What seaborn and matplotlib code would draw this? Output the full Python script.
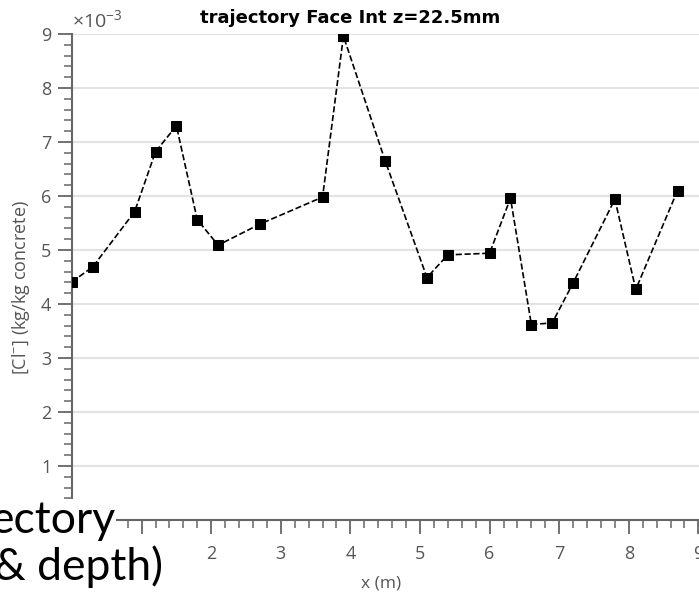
import matplotlib
matplotlib.use("Agg")
import matplotlib.pyplot as plt
import seaborn as sns
import numpy as np
from matplotlib.ticker import MultipleLocator, FuncFormatter

# data
x_m = [0.0, 0.3, 0.9, 1.2, 1.5, 1.8, 2.1, 2.7, 3.6, 3.9, 4.5, 5.1, 5.4, 6.0, 6.3, 6.6, 6.9, 7.2, 7.8, 8.1, 8.7]
cl_conc = [4.41e-3, 4.69e-3, 5.71e-3, 6.82e-3, 7.30e-3, 5.56e-3, 5.09e-3, 5.48e-3, 5.98e-3, 8.96e-3,
           6.65e-3, 4.49e-3, 4.91e-3, 4.94e-3, 5.96e-3, 3.62e-3, 3.65e-3, 4.39e-3, 5.94e-3, 4.27e-3, 6.10e-3]
title = "trajectory Face Int z=22.5mm"
xlabel = "x (m)"
ylabel = "[Cl$^{-}$] (kg/kg concrete)"

sns.set_style("white")
plt.rcParams['font.family'] = ['Open Sans', 'DejaVu Sans']
plt.rcParams['mathtext.fontset'] = 'custom'
plt.rcParams['mathtext.rm'] = 'Open Sans'
plt.rcParams['mathtext.it'] = 'Open Sans'

W, H = 699, 597
fig = plt.figure(figsize=(W / 100, H / 100), dpi=100)
ax = fig.add_axes([72 / W, 77 / H, 10 * 69.6 / W, 486 / H])

sns.lineplot(x=x_m, y=cl_conc, ax=ax, color='black', linestyle='--', linewidth=1.2,
             marker='s', markersize=7.5, markeredgecolor='black', markerfacecolor='black',
             zorder=3)

ax.set_xlim(0, 10)
ax.set_ylim(0, 9e-3)
ax.xaxis.set_major_locator(MultipleLocator(1))
ax.xaxis.set_minor_locator(MultipleLocator(0.2))
ax.yaxis.set_major_locator(MultipleLocator(1e-3))
ax.yaxis.set_minor_locator(MultipleLocator(0.2e-3))
# labels 0 and 1 (x) and 0 (y) are hidden under the overlapping text in the reference
ax.xaxis.set_major_formatter(FuncFormatter(lambda v, p: "" if v < 1.5 else f"{v:.0f}"))
ax.yaxis.set_major_formatter(FuncFormatter(lambda v, p: "" if v < 0.5e-3 else f"{v*1e3:.0f}"))

ax.grid(axis='y', which='major', color='#e3e3e3', linewidth=1.5)
ax.grid(axis='x', visible=False)
for s in ['top', 'right']:
    ax.spines[s].set_visible(False)
for s in ['left', 'bottom']:
    ax.spines[s].set_color('#666666')
    ax.spines[s].set_linewidth(1.5)

ax.tick_params(bottom=True, left=True, which='both')
ax.tick_params(which='major', direction='out', length=10, width=1.3, color='#666666',
               labelcolor='#555555', labelsize=13)
ax.tick_params(which='minor', direction='out', length=5.5, width=1.1, color='#666666')
ax.tick_params(axis='x', which='major', pad=8)
ax.tick_params(axis='y', which='major', pad=5)

ax.set_xlabel(xlabel, fontsize=12.5, color='#555555')
ax.xaxis.set_label_coords((381 - 72) / (10 * 69.6), -56 / 486)
ax.set_ylabel(ylabel, fontsize=13, color='#555555')
ax.yaxis.set_label_coords(-40 / (10 * 69.6), (520 - 288) / 486)

fig.text(72 / W, 1 - 20 / H, r"$\times10^{-3}$", fontsize=14, color='#555555',
         ha='left', va='center')
fig.text(350 / W, 1 - 18 / H, title, fontsize=13, fontweight='bold', color='black',
         ha='center', va='center', family='DejaVu Sans')

# overlapping text from neighbouring panel
fig.text(115 / W, 1 - 533 / H, "ectory", fontsize=32, family='Lato', color='black',
         ha='right', va='baseline', zorder=5,
         bbox=dict(facecolor='white', edgecolor='none', pad=1))
fig.text(163 / W, 1 - 580 / H, "& depth)", fontsize=32, family='Lato', color='black',
         ha='right', va='baseline', zorder=5,
         bbox=dict(facecolor='white', edgecolor='none', pad=1))

fig.savefig("out.png", dpi=100)
